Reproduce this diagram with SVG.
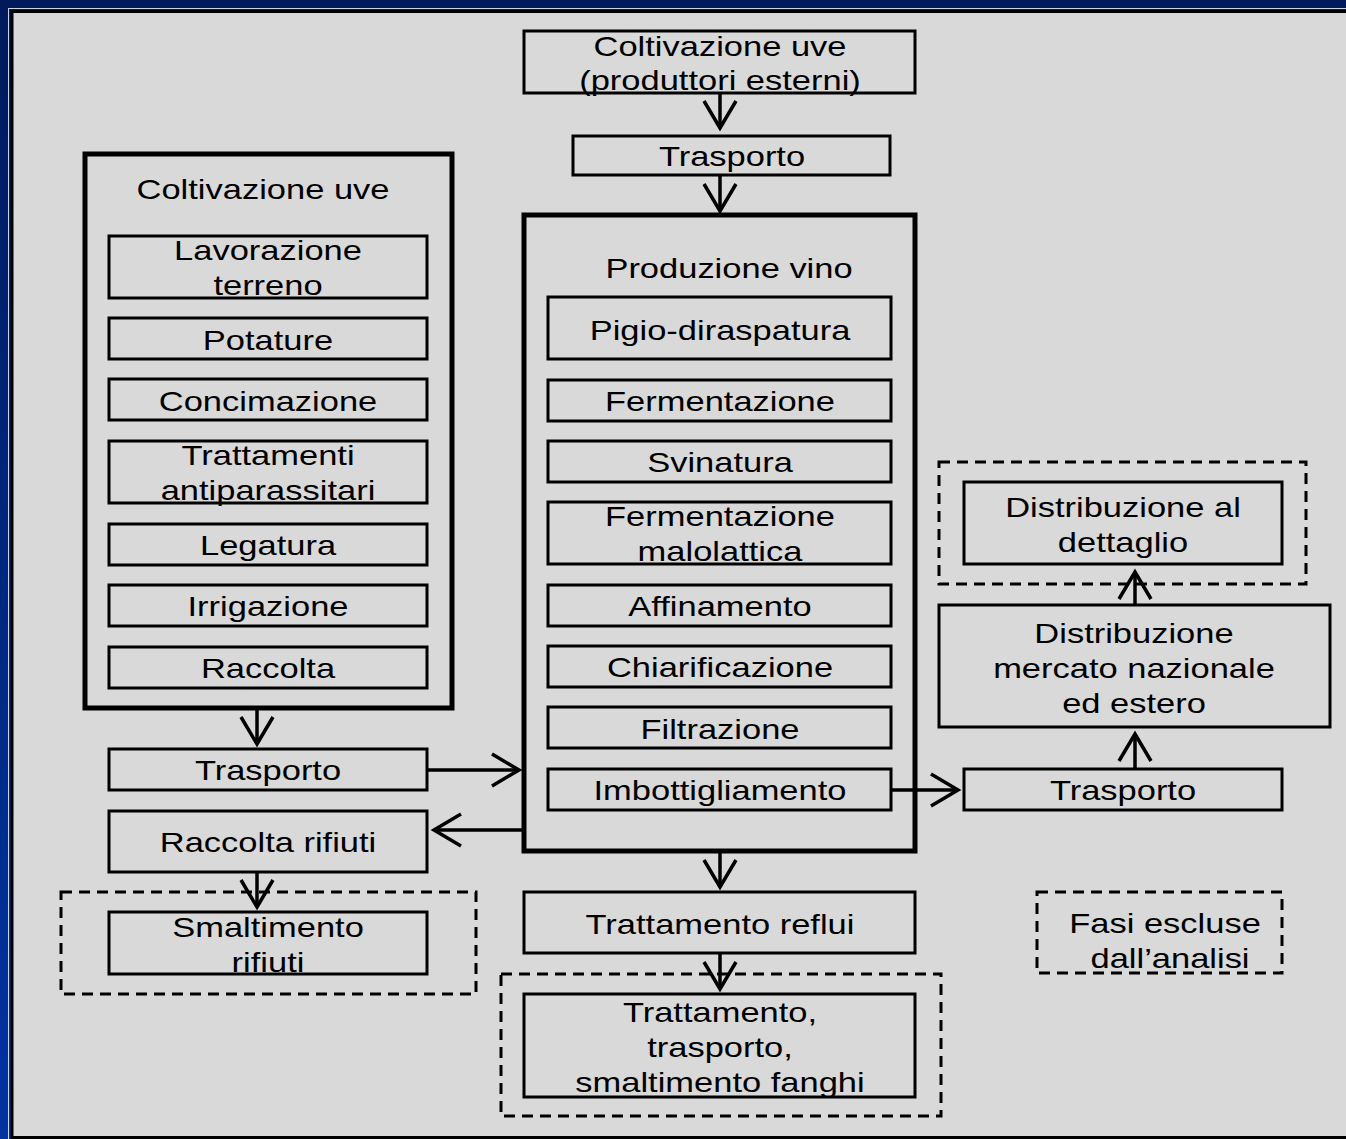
<svg xmlns="http://www.w3.org/2000/svg" width="1346" height="1139" viewBox="0 0 1346 1139">
<defs>
<linearGradient id="bg" x1="0" y1="0" x2="0" y2="1">
<stop offset="0" stop-color="#001a5c"/>
<stop offset="1" stop-color="#0034a3"/>
</linearGradient>
<marker id="ah" markerUnits="userSpaceOnUse" viewBox="-32 -22 36 44" refX="0" refY="0" markerWidth="36" markerHeight="44" orient="auto">
<path d="M-27,-16 L0,0 L-27,16" fill="none" stroke="#000" stroke-width="3.5" stroke-linejoin="miter"/>
</marker>
<style>
.b{fill:none;stroke:#000;stroke-width:3}
.tb{fill:none;stroke:#000;stroke-width:5}
.d{fill:none;stroke:#000;stroke-width:3;stroke-dasharray:11 7}
.t{font-family:"Liberation Sans",Arial,sans-serif;font-size:28.5px;fill:#000;text-anchor:middle}
.c{fill:none;stroke:#000;stroke-width:3.5;marker-end:url(#ah)}
</style>
</defs>
<rect x="0" y="0" width="1346" height="1139" fill="url(#bg)"/>
<rect x="8.5" y="8.5" width="1345" height="1140" fill="none" stroke="#c9d2e6" stroke-width="1"/>
<rect x="12" y="11.5" width="1345" height="1126" fill="#d9d9d9" stroke="#000" stroke-width="3"/>

<g id="conn">
<line class="c" x1="720" y1="93" x2="720" y2="128"/>
<line class="c" x1="720" y1="175" x2="720" y2="211"/>
<line class="c" x1="257" y1="708" x2="257" y2="744"/>
<line class="c" x1="427" y1="770" x2="519" y2="770"/>
<line class="c" x1="524" y1="830" x2="434" y2="830"/>
<line class="c" x1="257" y1="872" x2="257" y2="907"/>
<line class="c" x1="720" y1="851" x2="720" y2="887"/>
<line class="c" x1="720" y1="953" x2="720" y2="989"/>
<line class="c" x1="891" y1="790" x2="958" y2="790"/>
<line class="c" x1="1135" y1="769" x2="1135" y2="734"/>
<line class="c" x1="1135" y1="605" x2="1135" y2="572"/>
</g>

<g id="ext">
<rect class="b" x="524" y="31" width="391" height="62"/>
<text class="t" transform="translate(720 56) scale(1.21 1)">Coltivazione uve</text>
<text class="t" transform="translate(720 90) scale(1.21 1)">(produttori esterni)</text>
</g>
<g id="trasporto1">
<rect class="b" x="573" y="136" width="317" height="39"/>
<text class="t" transform="translate(732 166) scale(1.21 1)">Trasporto</text>
</g>

<g id="coltivazione">
<rect class="tb" x="85" y="154" width="367" height="554"/>
<text class="t" transform="translate(263 199) scale(1.21 1)">Coltivazione uve</text>
</g>
<g id="lavorazione">
<rect class="b" x="109" y="236" width="318" height="62"/>
<text class="t" transform="translate(268 260) scale(1.21 1)">Lavorazione</text>
<text class="t" transform="translate(268 295) scale(1.21 1)">terreno</text>
</g>
<g id="potature">
<rect class="b" x="109" y="318" width="318" height="41"/>
<text class="t" transform="translate(268 350) scale(1.21 1)">Potature</text>
</g>
<g id="concimazione">
<rect class="b" x="109" y="379" width="318" height="41"/>
<text class="t" transform="translate(268 411) scale(1.21 1)">Concimazione</text>
</g>
<g id="trattamenti">
<rect class="b" x="109" y="441" width="318" height="62"/>
<text class="t" transform="translate(268 465) scale(1.21 1)">Trattamenti</text>
<text class="t" transform="translate(268 500) scale(1.21 1)">antiparassitari</text>
</g>
<g id="legatura">
<rect class="b" x="109" y="524" width="318" height="41"/>
<text class="t" transform="translate(268 555) scale(1.21 1)">Legatura</text>
</g>
<g id="irrigazione">
<rect class="b" x="109" y="585" width="318" height="41"/>
<text class="t" transform="translate(268 616) scale(1.21 1)">Irrigazione</text>
</g>
<g id="raccolta">
<rect class="b" x="109" y="647" width="318" height="41"/>
<text class="t" transform="translate(268 678) scale(1.21 1)">Raccolta</text>
</g>
<g id="trasporto2">
<rect class="b" x="109" y="749" width="318" height="41"/>
<text class="t" transform="translate(268 780) scale(1.21 1)">Trasporto</text>
</g>
<g id="rifiuti">
<rect class="b" x="109" y="811" width="318" height="61"/>
<text class="t" transform="translate(268 852) scale(1.21 1)">Raccolta rifiuti</text>
</g>
<g id="smaltimento">
<rect class="d" x="61" y="892" width="415" height="102"/>
<rect class="b" x="109" y="912" width="318" height="62"/>
<text class="t" transform="translate(268 937) scale(1.21 1)">Smaltimento</text>
<text class="t" transform="translate(268 972) scale(1.21 1)">rifiuti</text>
</g>

<g id="produzione">
<rect class="tb" x="524" y="215" width="391" height="636"/>
<text class="t" transform="translate(729 278) scale(1.21 1)">Produzione vino</text>
</g>
<g id="pigio">
<rect class="b" x="548" y="297" width="343" height="62"/>
<text class="t" transform="translate(720 340) scale(1.21 1)">Pigio-diraspatura</text>
</g>
<g id="ferm">
<rect class="b" x="548" y="380" width="343" height="41"/>
<text class="t" transform="translate(720 411) scale(1.21 1)">Fermentazione</text>
</g>
<g id="svinatura">
<rect class="b" x="548" y="441" width="343" height="41"/>
<text class="t" transform="translate(720 472) scale(1.21 1)">Svinatura</text>
</g>
<g id="malolattica">
<rect class="b" x="548" y="502" width="343" height="62"/>
<text class="t" transform="translate(720 526) scale(1.21 1)">Fermentazione</text>
<text class="t" transform="translate(720 561) scale(1.21 1)">malolattica</text>
</g>
<g id="affinamento">
<rect class="b" x="548" y="585" width="343" height="41"/>
<text class="t" transform="translate(720 616) scale(1.21 1)">Affinamento</text>
</g>
<g id="chiarificazione">
<rect class="b" x="548" y="646" width="343" height="41"/>
<text class="t" transform="translate(720 677) scale(1.21 1)">Chiarificazione</text>
</g>
<g id="filtrazione">
<rect class="b" x="548" y="707" width="343" height="41"/>
<text class="t" transform="translate(720 739) scale(1.21 1)">Filtrazione</text>
</g>
<g id="imbottigliamento">
<rect class="b" x="548" y="769" width="343" height="41"/>
<text class="t" transform="translate(720 800) scale(1.21 1)">Imbottigliamento</text>
</g>

<g id="reflui">
<rect class="b" x="524" y="892" width="391" height="61"/>
<text class="t" transform="translate(720 934) scale(1.21 1)">Trattamento reflui</text>
</g>
<g id="fanghi">
<rect class="d" x="501" y="974" width="440" height="142"/>
<rect class="b" x="524" y="994" width="391" height="103"/>
<text class="t" transform="translate(720 1022) scale(1.21 1)">Trattamento,</text>
<text class="t" transform="translate(720 1057) scale(1.21 1)">trasporto,</text>
<text class="t" transform="translate(720 1092) scale(1.21 1)">smaltimento fanghi</text>
</g>

<g id="dettaglio">
<rect class="d" x="939" y="462" width="367" height="122"/>
<rect class="b" x="964" y="482" width="318" height="82"/>
<text class="t" transform="translate(1123 517) scale(1.21 1)">Distribuzione al</text>
<text class="t" transform="translate(1123 552) scale(1.21 1)">dettaglio</text>
</g>
<g id="mercato">
<rect class="b" x="939" y="605" width="391" height="122"/>
<text class="t" transform="translate(1134 643) scale(1.21 1)">Distribuzione</text>
<text class="t" transform="translate(1134 678) scale(1.21 1)">mercato nazionale</text>
<text class="t" transform="translate(1134 713) scale(1.21 1)">ed estero</text>
</g>
<g id="trasporto3">
<rect class="b" x="964" y="769" width="318" height="41"/>
<text class="t" transform="translate(1123 800) scale(1.21 1)">Trasporto</text>
</g>

<g id="legenda">
<rect class="d" x="1037" y="892" width="245" height="81"/>
<text class="t" transform="translate(1165 933) scale(1.21 1)">Fasi escluse</text>
<text class="t" transform="translate(1170 968) scale(1.21 1)">dall’analisi</text>
</g>
</svg>
